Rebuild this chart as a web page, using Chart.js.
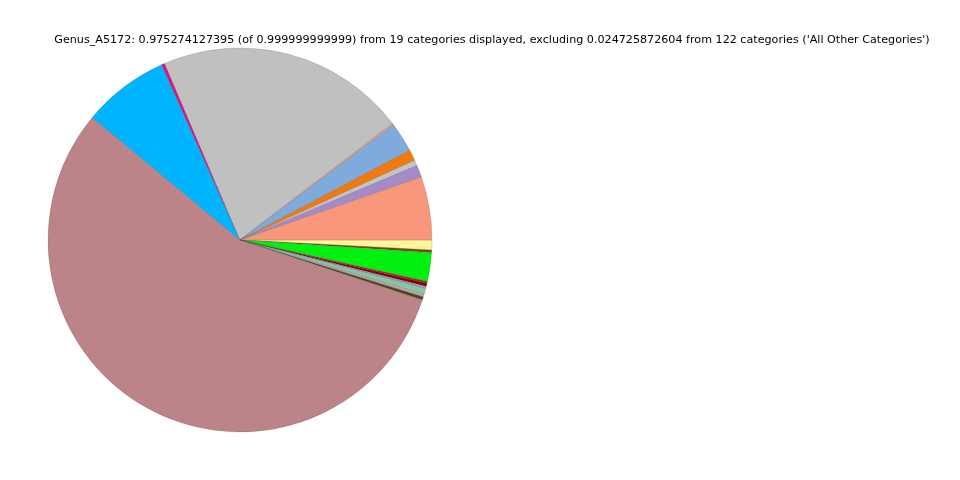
<!DOCTYPE html>
<html>
<head>
<meta charset="utf-8">
<script src="https://cdn.jsdelivr.net/npm/chart.js@4/dist/chart.umd.min.js"></script>
<style>
  html, body { margin: 0; padding: 0; background: #fff; }
  #wrap { width: 960px; height: 480px; position: relative; }
</style>
</head>
<body>
<div id="wrap"><canvas id="c" width="960" height="480"></canvas></div>
<script>
// slices in matplotlib order (counterclockwise from east)
const categories = ['cat01', 'cat02', 'cat03', 'cat04', 'cat05', 'cat06', 'cat07', 'cat08', 'cat09', 'cat10',
                    'cat11', 'cat12', 'cat13', 'cat14', 'cat15', 'cat16', 'cat17', 'cat18', 'cat19'];
const values = [0.0518, 0.0100, 0.0046, 0.0090, 0.0246, 0.0014, 0.2050, 0.0027, 0.0710, 0.5457,
                0.0027, 0.0022, 0.0049, 0.0016, 0.0027, 0.0014, 0.0236, 0.0022, 0.0081];
const colors = ['#F8977A', '#A68AC8', '#C4C4C4', '#F07A10', '#7FAADC', '#F4A080', '#C0C0C0', '#E0137F', '#00B4FF', '#BC8389',
                '#4B4A1E', '#C8A0A8', '#7FC9A5', '#A592C8', '#8B0000', '#B22222', '#00F010', '#7B4A12', '#FFF59A'];
const titleText = "Genus_A5172: 0.975274127395 (of 0.999999999999) from 19 categories displayed, excluding 0.024725872604 from 122 categories ('All Other Categories')";

const ctx = document.getElementById('c').getContext('2d');

// Chart.js draws clockwise, so feed the slices reversed and start at east
const rev = arr => arr.slice().reverse();

const titlePlugin = {
    id: 'topTitle',
    afterDraw(chart) {
        const c = chart.ctx;
        c.save();
        c.font = '11.15px "DejaVu Sans"';
        c.fillStyle = '#000';
        c.textAlign = 'center';
        c.textBaseline = 'middle';
        c.fillText(titleText, 492, 40);
        c.restore();
    }
};

new Chart(ctx, {
    type: 'pie',
    data: {
        labels: rev(categories),
        datasets: [{
            data: rev(values),
            backgroundColor: rev(colors),
            borderColor: 'rgba(60,60,60,0.35)',
            borderWidth: 0.5
        }]
    },
    options: {
        responsive: false,
        animation: false,
        rotation: 90,
        radius: 192,
        layout: { padding: { left: 48, right: 528, top: 48, bottom: 48 } },
        plugins: {
            legend: { display: false },
            tooltip: { enabled: false }
        }
    },
    plugins: [titlePlugin]
});
</script>
</body>
</html>
